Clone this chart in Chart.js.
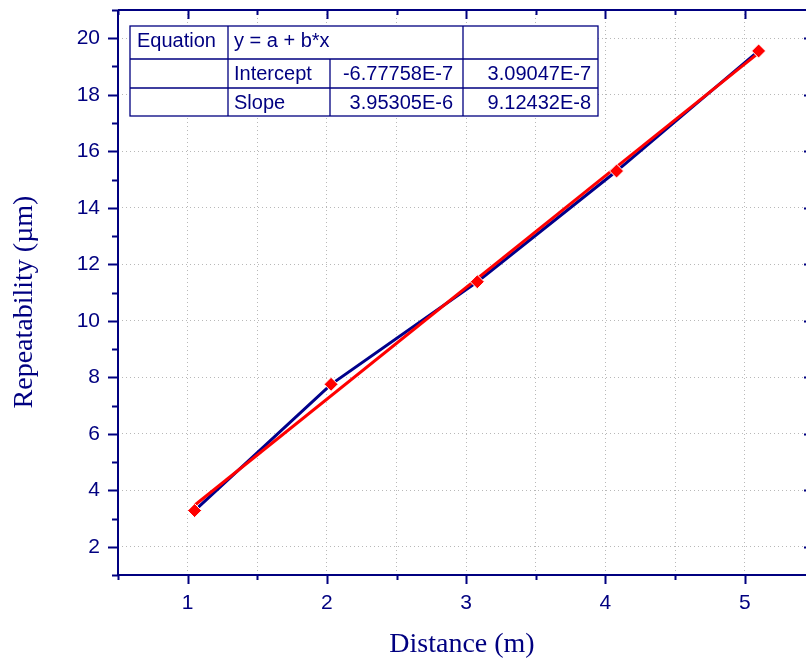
<!DOCTYPE html>
<html>
<head>
<meta charset="utf-8">
<title>Repeatability vs Distance</title>
<script src="https://cdn.jsdelivr.net/npm/chart.js@4/dist/chart.umd.min.js"></script>
<style>
  html, body { margin: 0; padding: 0; background: #fff; overflow: hidden; }
  #wrap { width: 806px; height: 661px; }
  canvas { display: block; }
</style>
</head>
<body>
<div id="wrap"><canvas id="chart" width="806" height="661"></canvas></div>
<script>
(function () {
  "use strict";

  // measured points (distance in m, repeatability in µm)
  const distance = [1.05, 2.03, 3.08, 4.08, 5.10];
  const repeatability = [3.28, 7.75, 11.38, 15.30, 19.55];

  // linear fit drawn between first and last distance
  const fitX = [1.05, 5.10];
  const fitY = [3.47, 19.48];

  const xTickLabels = [1, 2, 3, 4, 5];
  const yTickLabels = [2, 4, 6, 8, 10, 12, 14, 16, 18, 20];

  // fit result table
  const tableRow1 = ["Equation", "y = a + b*x", ""];
  const tableRow2 = ["", "Intercept", "-6.77758E-7", "3.09047E-7"];
  const tableRow3 = ["", "Slope", "3.95305E-6", "9.12432E-8"];

  const yTitle = "Repeatability (µm)";

  const NAVY = "#000080";
  const GRID = "#b8b8b8";
  const SANS = "'Liberation Sans', Arial, sans-serif";
  const SERIF = "'Liberation Serif', 'Times New Roman', serif";

  const toPoints = (xs, ys) => xs.map((x, i) => ({ x, y: ys[i] }));

  // axes frame, tick marks, y title and the fit table
  const frame = {
    id: "frame",
    afterDraw(chart) {
      const { ctx, chartArea: a, scales } = chart;
      const xs = scales.x;
      const ys = scales.y;
      ctx.save();
      ctx.strokeStyle = NAVY;
      ctx.lineWidth = 2;

      ctx.beginPath();
      ctx.moveTo(a.left, a.top);
      ctx.lineTo(a.left, a.bottom);
      ctx.lineTo(a.right, a.bottom);
      ctx.moveTo(a.left, a.top);
      ctx.lineTo(a.right, a.top);
      ctx.stroke();

      ctx.beginPath();
      xs.ticks.forEach((t) => {
        const px = Math.round(xs.getPixelForValue(t.value)) + 0.5;
        const len = Number.isInteger(t.value) ? 9 : 5;
        ctx.moveTo(px, a.bottom);
        ctx.lineTo(px, a.bottom + len);
        ctx.moveTo(px, a.top);
        ctx.lineTo(px, a.top + len);
      });
      ys.ticks.forEach((t) => {
        const py = Math.round(ys.getPixelForValue(t.value)) + 0.5;
        const major = t.value % 2 === 0;
        const len = major ? 10 : 6;
        ctx.moveTo(a.left - len, py);
        ctx.lineTo(a.left, py);
        if (major) {
          ctx.moveTo(a.right - 2, py);
          ctx.lineTo(a.right, py);
        }
      });
      ctx.stroke();

      // y axis title
      ctx.save();
      ctx.translate(25, 302);
      ctx.rotate(-Math.PI / 2);
      ctx.fillStyle = NAVY;
      ctx.font = "28px " + SERIF;
      ctx.textAlign = "center";
      ctx.textBaseline = "middle";
      ctx.fillText(yTitle, 0, 0);
      ctx.restore();

      // table
      const left = a.left + 12;
      const top = a.top + 16;
      const cols = [0, 98, 200, 333, 468].map((c) => left + c);
      const rows = [0, 33, 62, 90].map((r) => top + r);

      ctx.fillStyle = "#fff";
      ctx.fillRect(cols[0], rows[0], cols[4] - cols[0], rows[3] - rows[0]);
      ctx.lineWidth = 1.3;
      ctx.strokeStyle = NAVY;
      ctx.strokeRect(cols[0], rows[0], cols[4] - cols[0], rows[3] - rows[0]);
      ctx.beginPath();
      ctx.moveTo(cols[0], rows[1]); ctx.lineTo(cols[4], rows[1]);
      ctx.moveTo(cols[0], rows[2]); ctx.lineTo(cols[4], rows[2]);
      ctx.moveTo(cols[1], rows[0]); ctx.lineTo(cols[1], rows[3]);
      ctx.moveTo(cols[2], rows[1]); ctx.lineTo(cols[2], rows[3]);
      ctx.moveTo(cols[3], rows[0]); ctx.lineTo(cols[3], rows[3]);
      ctx.stroke();

      ctx.fillStyle = NAVY;
      ctx.font = "20px " + SANS;
      ctx.textBaseline = "alphabetic";
      ctx.textAlign = "left";
      ctx.fillText(tableRow1[0], cols[0] + 7, rows[0] + 21);
      ctx.fillText(tableRow1[1], cols[1] + 6, rows[0] + 21);
      [tableRow2, tableRow3].forEach((row, i) => {
        const base = rows[i + 1] + 21;
        ctx.textAlign = "left";
        ctx.fillText(row[1], cols[1] + 6, base);
        ctx.textAlign = "right";
        ctx.fillText(row[2], cols[3] - 10, base);
        ctx.fillText(row[3], cols[4] - 7, base);
      });
      ctx.restore();
    }
  };

  new Chart(document.getElementById("chart"), {
    type: "scatter",
    data: {
      datasets: [
        {
          label: "Repeatability",
          data: toPoints(distance, repeatability),
          showLine: true,
          borderColor: "#00008B",
          borderWidth: 3,
          pointRadius: 0,
          order: 3
        },
        {
          label: "Linear Fit",
          data: toPoints(fitX, fitY),
          showLine: true,
          borderColor: "#ff0000",
          borderWidth: 3,
          pointRadius: 0,
          order: 2
        },
        {
          label: "Points",
          data: toPoints(distance, repeatability),
          showLine: false,
          pointStyle: "rectRot",
          pointRadius: 7,
          backgroundColor: "#ff0000",
          borderColor: "#ffffff",
          borderWidth: 1,
          order: 1
        }
      ]
    },
    options: {
      responsive: false,
      animation: false,
      layout: { autoPadding: false, padding: { top: 10, right: 0, bottom: 0, left: 0 } },
      plugins: {
        legend: { display: false },
        tooltip: { enabled: false }
      },
      scales: {
        x: {
          type: "linear",
          min: 0.5,
          max: 5.44,
          afterFit: (s) => { s.height = 86; s.paddingLeft = 0; s.paddingRight = 0; },
          border: { display: false, dash: [1, 3] },
          grid: { color: GRID, lineWidth: 1, drawTicks: false },
          ticks: {
            stepSize: 0.5,
            includeBounds: false,
            autoSkip: false,
            maxRotation: 0,
            padding: 16,
            color: NAVY,
            font: { family: SANS, size: 21 },
            callback: (v) => (xTickLabels.includes(v) ? String(v) : "")
          },
          title: {
            display: true,
            text: "Distance (m)",
            color: NAVY,
            font: { family: SERIF, size: 28 },
            padding: { top: 0, bottom: 0 }
          }
        },
        y: {
          min: 1,
          max: 21,
          afterFit: (s) => { s.width = 118; s.paddingTop = 0; s.paddingBottom = 0; },
          border: { display: false, dash: [1, 3] },
          grid: {
            color: (c) => (c.tick && c.tick.value % 2 === 0 ? GRID : "rgba(0,0,0,0)"),
            lineWidth: 1,
            drawTicks: false
          },
          ticks: {
            stepSize: 1,
            includeBounds: false,
            autoSkip: false,
            padding: 18,
            color: NAVY,
            font: { family: SANS, size: 21 },
            callback: (v) => (yTickLabels.includes(v) ? String(v) : "")
          },
          title: { display: false }
        }
      }
    },
    plugins: [frame]
  });
})();
</script>
</body>
</html>
